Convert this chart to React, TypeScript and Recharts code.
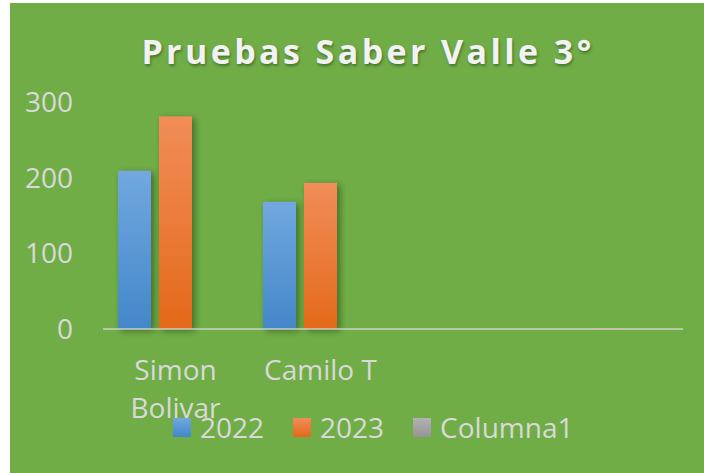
import { Bar, BarChart, XAxis, YAxis } from "recharts";

const categories = ["Simon Bolivar", "Camilo T", "", ""];
const values2022 = [209, 168, null, null];
const values2023 = [281, 193, null, 1];
const valuesColumna1 = [null, null, null, null];
const yTicks = [0, 100, 200, 300];
const seriesNames = ["2022", "2023", "Columna1"];

const data = categories.map((name, i) => ({
  name,
  "2022": values2022[i],
  "2023": values2023[i],
  Columna1: valuesColumna1[i],
}));

const GREEN = "#70AD47";
const LABEL = "#D9D9D9";
const FONT = "'Open Sans', 'Noto Sans', sans-serif";

const gradients: Record<string, [string, string]> = {
  "2022": ["#71A8DF", "#4387C9"],
  "2023": ["#F18D58", "#E4691A"],
  Columna1: ["#B2B2B2", "#959595"],
};

const gradId = (name: string) => `grad-${name}`;

let measureCtx: CanvasRenderingContext2D | null = null;
function textWidth(s: string) {
  if (!measureCtx) {
    measureCtx = document.createElement("canvas").getContext("2d");
    if (measureCtx) measureCtx.font = `28px 'Open Sans'`;
  }
  return measureCtx ? measureCtx.measureText(s).width : s.length * 16;
}

// greedy word wrap into the category band
function wrapLabel(label: string, maxWidth: number) {
  const lines: string[] = [];
  let current = "";
  label.split(" ").forEach((word) => {
    const next = current ? `${current} ${word}` : word;
    if (current && textWidth(next) > maxWidth) {
      lines.push(current);
      current = word;
    } else {
      current = next;
    }
  });
  if (current) lines.push(current);
  return lines;
}

function ShadowBar(props: any) {
  const { x, y, width, height, fill } = props;
  if (!height || height <= 0) return null;
  return (
    <rect
      x={x}
      y={y}
      width={width}
      height={height}
      fill={fill}
      filter={height > 3 ? "url(#barShadow)" : undefined}
    />
  );
}

function CategoryTick(props: any) {
  const { x, y, payload } = props;
  if (!payload.value) return null;
  const lines = wrapLabel(payload.value, 140);
  return (
    <text
      x={x}
      y={y + 20}
      textAnchor="middle"
      fill={LABEL}
      style={{ fontSize: 28, fontFamily: FONT }}
    >
      {lines.map((line, i) => (
        <tspan key={i} x={x} dy={i === 0 ? 0 : 38}>
          {line}
        </tspan>
      ))}
    </text>
  );
}

function ChartLegend() {
  return (
    <div
      style={{
        position: "absolute",
        left: 163,
        top: 410,
        display: "flex",
        alignItems: "center",
        fontFamily: FONT,
        fontSize: 28,
        lineHeight: "28px",
        color: LABEL,
      }}
    >
      {seriesNames.map((name) => (
        <div
          key={name}
          style={{ display: "flex", alignItems: "center", marginRight: 29 }}
        >
          <span
            style={{
              width: 18,
              height: 19,
              marginRight: 9,
              background: `linear-gradient(${gradients[name][0]}, ${gradients[name][1]})`,
            }}
          />
          <span>{name}</span>
        </div>
      ))}
    </div>
  );
}

export default function App() {
  return (
    <div
      style={{
        position: "absolute",
        left: 10,
        top: 3,
        width: 694,
        height: 470,
        background: GREEN,
        overflow: "hidden",
      }}
    >
      <div
        style={{
          position: "absolute",
          left: 0,
          top: 24,
          width: 694,
          paddingLeft: 22,
          boxSizing: "border-box",
          textAlign: "center",
          fontFamily: FONT,
          fontWeight: 700,
          fontSize: 34,
          lineHeight: "48px",
          letterSpacing: 3.4,
          color: "#F2F2F2",
          textShadow: "1px 2px 3px rgba(0,0,0,0.35)",
        }}
      >
        Pruebas Saber Valle 3°
      </div>
      <BarChart
        width={694}
        height={470}
        data={data}
        margin={{ top: 99, right: 21, left: 0, bottom: 0 }}
        barCategoryGap={15}
        barGap={8}
        style={{ position: "absolute", left: 0, top: 0 }}
      >
        <defs>
          {seriesNames.map((name) => (
            <linearGradient key={name} id={gradId(name)} x1="0" y1="0" x2="0" y2="1">
              <stop offset="0%" stopColor={gradients[name][0]} />
              <stop offset="100%" stopColor={gradients[name][1]} />
            </linearGradient>
          ))}
          <filter id="barShadow" x="-30%" y="-10%" width="160%" height="130%">
            <feDropShadow dx={3} dy={2} stdDeviation={3} floodColor="#1f3a10" floodOpacity={0.55} />
          </filter>
        </defs>
        <YAxis
          width={93}
          domain={[0, 300]}
          ticks={yTicks}
          axisLine={false}
          tickLine={false}
          tickSize={0}
          tickMargin={30}
          tick={{ fill: LABEL, fontSize: 28, fontFamily: FONT }}
        />
        {seriesNames.map((name) => (
          <Bar
            key={name}
            dataKey={name}
            fill={`url(#${gradId(name)})`}
            shape={<ShadowBar />}
            isAnimationActive={false}
          />
        ))}
        <XAxis
          dataKey="name"
          height={144}
          interval={0}
          tickLine={false}
          tickSize={0}
          tickMargin={31}
          axisLine={{ stroke: "#D9D9D9", strokeOpacity: 0.65, strokeWidth: 2 }}
          tick={<CategoryTick />}
        />
      </BarChart>
      <ChartLegend />
    </div>
  );
}
